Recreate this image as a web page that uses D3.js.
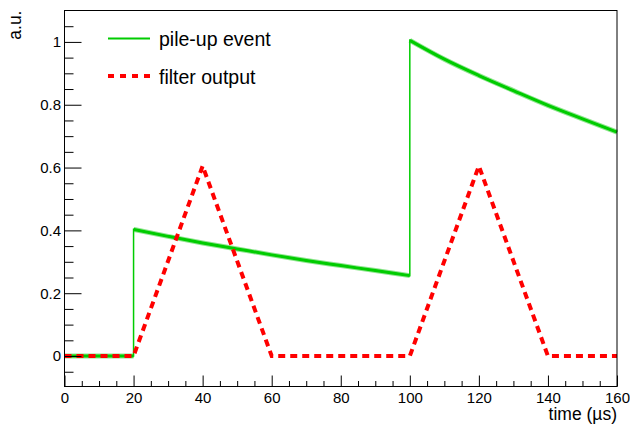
<!DOCTYPE html>
<html>
<head>
<meta charset="utf-8">
<script src="https://cdn.jsdelivr.net/npm/d3@7"></script>
<style>
  body { margin: 0; background: #fff; }
  svg { display: block; font-family: "Liberation Sans", Arial, Helvetica, sans-serif; }
</style>
</head>
<body>
<svg width="630" height="430"></svg>
<script>
// pile-up event (green)
const pulseTime = [0, 5, 10, 15, 20, 20, 30, 40, 50, 60, 70, 80, 90, 100, 100, 110, 120, 130, 140, 150, 160];
const pulseValue = [0, 0, 0, 0, 0, 0.403, 0.381, 0.360, 0.341, 0.322, 0.304, 0.288, 0.272, 0.256, 1.005, 0.945, 0.893, 0.845, 0.798, 0.755, 0.713];

// filter output (red dashed)
const filterTime = [0, 20, 40, 60, 100, 120, 140, 160];
const filterValue = [0, 0, 0.605, 0, 0, 0.605, 0, 0];

const xTicks = [0, 20, 40, 60, 80, 100, 120, 140, 160];
const yTicks = [0, 0.2, 0.4, 0.6, 0.8, 1];
const legendLabels = ["pile-up event", "filter output"];

const chart = () => {
    const margin = { top: 10.5, right: 13, bottom: 43.5, left: 64.5 };
    const width = 630, height = 430;

    const svg = d3.select("svg");

    const x = d3.scaleLinear()
        .domain([0, 160])
        .range([margin.left, width - margin.right]);

    const y = d3.scaleLinear()
        .domain([-0.097, 1.1])
        .range([height - margin.bottom, margin.top]);

    const pulse = pulseTime.map((t, i) => ({ t: t, v: pulseValue[i] }));
    const filter = filterTime.map((t, i) => ({ t: t, v: filterValue[i] }));

    const line = d3.line().x(d => x(d.t)).y(d => y(d.v));
    const smooth = d3.line().x(d => x(d.t)).y(d => y(d.v)).curve(d3.curveMonotoneX);

    // split pulse where it jumps, the noisy band only goes on flat/decaying parts
    const segments = [];
    let cur = [pulse[0]];
    for (let i = 1; i < pulse.length; i++) {
        if (pulse[i].t === pulse[i - 1].t) { segments.push(cur); cur = []; }
        cur.push(pulse[i]);
    }
    segments.push(cur);

    const band = svg.append("g");
    band.selectAll("path.halo")
        .data(segments)
        .enter().append("path")
        .attr("class", "halo")
        .attr("d", smooth)
        .attr("fill", "none")
        .attr("stroke", "#8fe58f")
        .attr("stroke-width", 5);
    band.selectAll("path.core")
        .data(segments)
        .enter().append("path")
        .attr("class", "core")
        .attr("d", smooth)
        .attr("fill", "none")
        .attr("stroke", "#00cc00")
        .attr("stroke-width", 3);

    svg.append("path")
        .datum(pulse)
        .attr("d", line)
        .attr("fill", "none")
        .attr("stroke", "#00cc00")
        .attr("stroke-width", 1.5);

    svg.append("path")
        .datum(filter)
        .attr("d", line)
        .attr("fill", "none")
        .attr("stroke", "#ff0000")
        .attr("stroke-width", 4)
        .attr("stroke-dasharray", "7,5");

    // axes, ticks inside the frame
    svg.append("g")
        .attr("transform", `translate(${margin.left},0)`)
        .call(d3.axisLeft(y).tickValues(yTicks).tickSize(-17).tickPadding(3.5).tickFormat(d3.format("~g")));
    svg.append("g")
        .attr("transform", `translate(${margin.left},0)`)
        .call(d3.axisLeft(y).tickValues(d3.range(-0.05, 1.1, 0.05).filter(v => Math.abs(Math.round(v * 5) - v * 5) > 1e-6)).tickSize(-9).tickFormat(""));

    svg.append("g")
        .attr("transform", `translate(0,${height - margin.bottom})`)
        .call(d3.axisBottom(x).tickValues(xTicks).tickSize(-11).tickPadding(6));
    svg.append("g")
        .attr("transform", `translate(0,${height - margin.bottom})`)
        .call(d3.axisBottom(x).tickValues(d3.range(5, 160, 5).filter(v => v % 20 !== 0)).tickSize(-5.5).tickFormat(""));

    svg.selectAll(".domain").remove();
    svg.selectAll(".tick line").attr("stroke", "#000");
    svg.selectAll(".tick text").attr("fill", "#000").style("font-size", "15px");

    svg.append("rect")
        .attr("x", margin.left)
        .attr("y", margin.top)
        .attr("width", width - margin.right - margin.left)
        .attr("height", height - margin.bottom - margin.top)
        .attr("fill", "none")
        .attr("stroke", "#000");

    // axis titles
    svg.append("text")
        .attr("x", width - margin.right)
        .attr("y", 420)
        .attr("text-anchor", "end")
        .style("font-size", "17.5px")
        .text("time (\u00b5s)");

    svg.append("text")
        .attr("transform", `translate(21,${margin.top}) rotate(-90)`)
        .attr("text-anchor", "end")
        .style("font-size", "17.5px")
        .text("a.u.");

    // legend
    const legend = svg.append("g");
    legend.append("line")
        .attr("x1", 108).attr("x2", 150).attr("y1", 38.5).attr("y2", 38.5)
        .attr("stroke", "#00cc00").attr("stroke-width", 2);
    legend.append("line")
        .attr("x1", 108).attr("x2", 151).attr("y1", 76).attr("y2", 76)
        .attr("stroke", "#ff0000").attr("stroke-width", 4).attr("stroke-dasharray", "6,6");
    legend.selectAll("text")
        .data(legendLabels)
        .enter().append("text")
        .attr("x", 159)
        .attr("y", (d, i) => 46 + i * 37.5)
        .style("font-size", "19.5px")
        .text(d => d);
};

chart();
</script>
</body>
</html>
